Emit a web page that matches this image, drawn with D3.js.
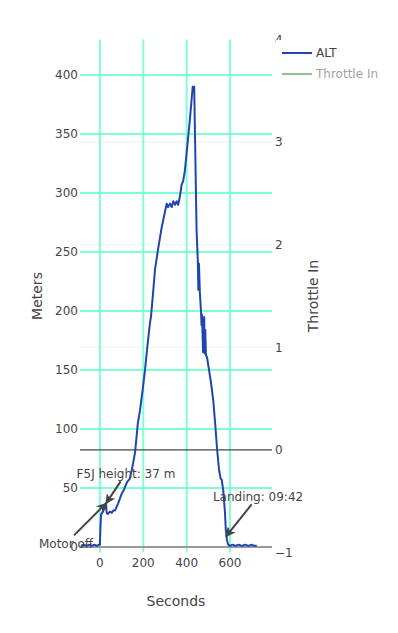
<!DOCTYPE html>
<html>
<head>
<meta charset="utf-8">
<script src="https://cdn.jsdelivr.net/npm/d3@7"></script>
<style>
  html, body { margin: 0; padding: 0; background: #fff; }
  text { font-family: "DejaVu Sans", Verdana, sans-serif; }
</style>
</head>
<body>
<svg id="chart" width="398" height="633"></svg>
<script>
// ---------- data ----------
const seconds = [-88, -75, -62, -50, -38, -26, -14, -5, 0, 2, 5, 10, 16, 22, 28, 31, 36, 46, 55, 61, 70, 77, 84, 90, 100, 112, 125, 138, 150, 162, 175, 185, 197, 208, 220, 231, 236, 245, 254, 268, 285, 308, 314, 323, 331, 338, 346, 354, 361, 369, 377, 384, 392, 400, 415, 428, 435, 446, 452, 454, 457, 461, 466, 469, 471, 476, 481, 484, 486, 489, 495, 500, 512, 523, 532, 541, 550, 557, 562, 569, 577, 581, 586, 592, 600, 612, 625, 640, 655, 670, 685, 700, 712, 724];
const altMeters = [1, 2, 1, 2, 1, 2, 1, 2, 2, 15, 27, 29, 31, 33, 37, 29, 28, 30, 29, 31, 31, 34, 37, 40, 45, 49, 55, 58, 68, 80, 105, 116, 133, 150, 172, 190, 196, 215, 235, 252, 271, 291, 288, 291, 288, 293, 290, 293, 290, 297, 307, 310, 319, 334, 362, 390, 390, 268, 241, 218, 240, 216, 201, 188, 197, 165, 195, 164, 184, 163, 160, 154, 140, 124, 104, 82, 65, 58, 57, 48, 29, 14, 6, 2, 1, 2, 1, 2, 1, 2, 1, 2, 1, 1];
const xTicks = [0, 200, 400, 600];
const yLeftTicks = [0, 50, 100, 150, 200, 250, 300, 350, 400];
const yRightTicks = [-1, 0, 1, 2, 3, 4];
const legendNames = ["ALT", "Throttle In"];
const annotations = [
  { x: 28, y: 37, ax: -40, ay: 40, text: "Motor off" },
  { x: 28, y: 37, ax: 20, ay: -30, text: "F5J height: 37 m" },
  { x: 582, y: 9, ax: 32, ay: -40, text: "Landing: 09:42" }
];

// ---------- layout ----------
const L = 80, R = 272, T = 39.5, B = 552.5;
const svg = d3.select("#chart");
const x = d3.scaleLinear().domain([-92, 794]).range([L, R]);
const yL = d3.scaleLinear().domain([-4.66, 430.1]).range([B, T]);
const yR = d3.scaleLinear().domain([-1, 4]).range([B, T]);

const grid = "#7fffd4";
const txt = "#444";

svg.append("rect").attr("width", 398).attr("height", 633).attr("fill", "#fff");

// right axis grid (faint)
svg.append("g").selectAll("line").data(yRightTicks.filter(d => d > 0 && d < 4)).join("line")
  .attr("x1", L).attr("x2", R).attr("y1", d => yR(d)).attr("y2", d => yR(d))
  .attr("stroke", "#eee").attr("stroke-width", 1);

// left axis grid (aquamarine)
svg.append("g").selectAll("line").data(yLeftTicks.filter(d => d !== 0)).join("line")
  .attr("x1", L).attr("x2", R).attr("y1", d => yL(d)).attr("y2", d => yL(d))
  .attr("stroke", grid).attr("stroke-width", 2);

// x grid
svg.append("g").selectAll("line").data(xTicks).join("line")
  .attr("x1", d => x(d)).attr("x2", d => x(d)).attr("y1", T).attr("y2", B)
  .attr("stroke", grid).attr("stroke-width", 2);

// zero lines
svg.append("line").attr("x1", L).attr("x2", R).attr("y1", yR(0)).attr("y2", yR(0))
  .attr("stroke", "#444").attr("stroke-width", 1.2);
svg.append("line").attr("x1", L).attr("x2", R).attr("y1", yL(0)).attr("y2", yL(0))
  .attr("stroke", "#999").attr("stroke-width", 2);

// clip
svg.append("clipPath").attr("id", "clip").append("rect")
  .attr("x", L).attr("y", T).attr("width", R - L).attr("height", B - T);

// ALT line
const pts = seconds.map((s, i) => [s, altMeters[i]]);
svg.append("path").datum(pts)
  .attr("clip-path", "url(#clip)")
  .attr("d", d3.line().x(d => x(d[0])).y(d => yL(d[1])))
  .attr("fill", "none").attr("stroke", "#1f46b0").attr("stroke-width", 2)
  .attr("stroke-linejoin", "round");

// tick labels
svg.append("g").selectAll("text").data(yLeftTicks).join("text")
  .attr("x", 78).attr("y", d => yL(d)).attr("dy", "0.35em")
  .attr("text-anchor", "end").attr("font-size", 12).attr("fill", txt)
  .text(d => d);
svg.append("g").selectAll("text").data(yRightTicks).join("text")
  .attr("x", 275).attr("y", d => yR(d)).attr("dy", "0.35em")
  .attr("text-anchor", "start").attr("font-size", 12).attr("fill", txt)
  .text(d => d < 0 ? "\u2212" + Math.abs(d) : d);
svg.append("g").selectAll("text").data(xTicks).join("text")
  .attr("x", d => x(d)).attr("y", 566.5)
  .attr("text-anchor", "middle").attr("font-size", 12).attr("fill", txt)
  .text(d => d);

// axis titles
svg.append("text").attr("x", 176).attr("y", 606).attr("text-anchor", "middle")
  .attr("font-size", 14).attr("fill", txt).text("Seconds");
svg.append("text").attr("transform", "translate(42,296) rotate(-90)")
  .attr("text-anchor", "middle").attr("font-size", 14).attr("fill", txt).text("Meters");
svg.append("text").attr("transform", "translate(318,296) rotate(-90)")
  .attr("text-anchor", "middle").attr("font-size", 14).attr("fill", txt).text("Throttle In");

// annotations
const defs = svg.append("defs");
defs.append("marker").attr("id", "ah").attr("viewBox", "0 0 10 10")
  .attr("refX", 9).attr("refY", 5).attr("markerWidth", 5).attr("markerHeight", 5)
  .attr("markerUnits", "strokeWidth").attr("orient", "auto")
  .append("path").attr("d", "M0,0 L10,5 L0,10 L2.5,5 Z").attr("fill", "#444");

annotations.forEach(a => {
  const px = x(a.x), py = yL(a.y);
  const cx = px + a.ax, cy = py + a.ay;
  const t = svg.append("text").attr("x", cx).attr("y", cy).attr("dy", "0.35em")
    .attr("text-anchor", "middle").attr("font-size", 12).attr("fill", txt).text(a.text);
  const bb = t.node().getBBox();
  const hw = bb.width / 2 + 1, hh = bb.height / 2 + 1;
  const dx = px - cx, dy = py - cy;
  const s = Math.min(Math.abs(dx) > 0 ? hw / Math.abs(dx) : Infinity, Math.abs(dy) > 0 ? hh / Math.abs(dy) : Infinity);
  svg.append("line").attr("x1", cx + dx * s).attr("y1", cy + dy * s)
    .attr("x2", px).attr("y2", py)
    .attr("stroke", "#444").attr("stroke-width", 2).attr("marker-end", "url(#ah)");
});

// legend
const lg = svg.append("g");
lg.append("rect").attr("x", 276).attr("y", 40).attr("width", 122).attr("height", 46).attr("fill", "#fff");
const legendColors = ["#1f46b0", "#228b22"];
const legendOpacity = [1, 0.5];
legendNames.forEach((n, i) => {
  const yy = 53 + i * 21;
  const g = lg.append("g").attr("opacity", legendOpacity[i]);
  g.append("line").attr("x1", 282).attr("x2", 312).attr("y1", yy).attr("y2", yy)
    .attr("stroke", legendColors[i]).attr("stroke-width", 2);
  g.append("text").attr("x", 316).attr("y", yy).attr("dy", "0.35em")
    .attr("font-size", 12).attr("fill", txt).text(n);
});
</script>
</body>
</html>
